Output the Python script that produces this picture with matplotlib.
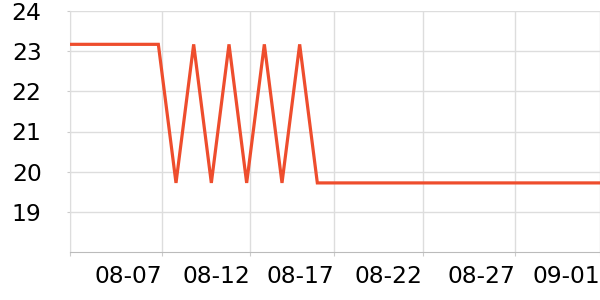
import matplotlib
matplotlib.use("Agg")
import matplotlib.pyplot as plt
import numpy as np

# data: daily values 08-02 .. 09-01
dates = ["08-02", "08-03", "08-04", "08-05", "08-06", "08-07", "08-08", "08-09",
         "08-10", "08-11", "08-12", "08-13", "08-14", "08-15", "08-16", "08-17",
         "08-18", "08-19", "08-20", "08-21", "08-22", "08-23", "08-24", "08-25",
         "08-26", "08-27", "08-28", "08-29", "08-30", "08-31", "09-01"]
values = [23.17, 23.17, 23.17, 23.17, 23.17, 23.17, 19.72, 23.17,
          19.72, 23.17, 19.72, 23.17, 19.72, 23.17, 19.72, 19.72,
          19.72, 19.72, 19.72, 19.72, 19.72, 19.72, 19.72, 19.72,
          19.72, 19.72, 19.72, 19.72, 19.72, 19.72, 19.72]
tick_labels = ["", "08-07", "08-12", "08-17", "08-22", "08-27", "09-01"]
y_ticks = [19, 20, 21, 22, 23, 24]

# tick positions (in day-index units) as they appear on the reference axis
tick_pos = [0, 5.22, 10.2, 14.94, 19.96, 25.2, 30.0]

fig = plt.figure(figsize=(6, 3), dpi=100)
ax = fig.add_axes([70/600, 48/300, 530/600, 241/300])

x = np.arange(len(values))
ax.plot(x, values, color="#ee4d2d", linewidth=2.3, solid_joinstyle="miter", zorder=3)

ax.set_xlim(0, 30)
ax.set_ylim(18, 24)
ax.set_yticks(y_ticks)
ax.set_xticks(tick_pos)
ax.set_xticklabels(tick_labels, ha="right")

ax.grid(True, color="#dddddd", linewidth=1)
ax.set_axisbelow(True)
for s in ["top", "right"]:
    ax.spines[s].set_visible(False)
ax.spines["left"].set_color("#dddddd")
ax.spines["bottom"].set_color("#bbbbbb")
ax.tick_params(axis="y", length=2.5, color="#cccccc", pad=18, labelsize=16.8)
ax.tick_params(axis="x", length=3, color="#cccccc", pad=6.5, labelsize=16.8)

fig.savefig("out.png", dpi=100)
